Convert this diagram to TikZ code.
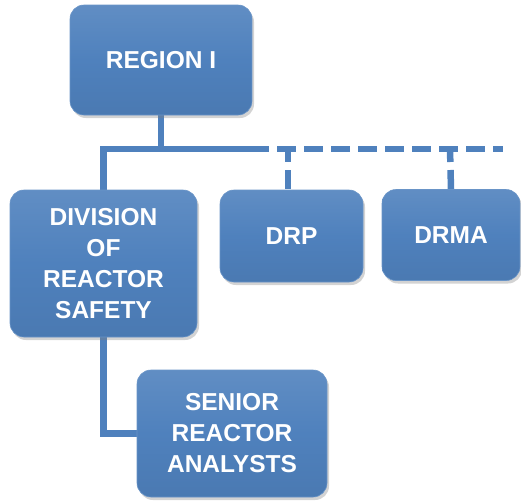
\documentclass[tikz,border=0pt]{standalone}
\usepackage{fontspec}
\setmainfont{Liberation Sans}
\usepackage{xcolor}
\usetikzlibrary{
    shadows,
    backgrounds,
    calc,
    positioning
}
\definecolor{orgblue}{RGB}{79,129,189}
\tikzset{
    orgbox/.style={rounded corners=14pt, top color=orgblue!90!white, bottom color=orgblue!94!black,
        middle color=orgblue, draw=orgblue!85!white, line width=0.6pt,
        drop shadow={shadow xshift=2pt, shadow yshift=-3pt, opacity=0.35},
        text=white, align=center, font=\bfseries\fontsize{24.5}{31}\selectfont, inner sep=2pt},
    orgline/.style={orgblue, line width=6.5pt},
    orgdash/.style={orgline, dash pattern=on 19pt off 8pt}
}

\begin{document}
\begin{tikzpicture}[x=1pt, y=-1pt]
                        \useasboundingbox (0, 0) rectangle (521, 501);
                        \node[orgbox, minimum width=182pt, minimum height=110pt] (region) at (161, 60) {REGION I};
                        \node[orgbox, minimum width=187pt, minimum height=147pt] (drs) at (103.5, 263.5) {DIVISION\\OF\\REACTOR\\SAFETY};
                        \node[orgbox, minimum width=143pt, minimum height=92pt] (drp) at (291.5, 236) {DRP};
                        \node[orgbox, minimum width=138pt, minimum height=91pt] (drma) at (451, 235) {DRMA};
                        \node[orgbox, minimum width=190pt, minimum height=127pt] (sra) at (232, 433.5) {SENIOR\\REACTOR\\ANALYSTS};

                        \coordinate (split) at (250, 149);
                        \coordinate (busend) at (503, 149);

                        \begin{scope}[on background layer]
                        \draw[orgline] (region.south) -- (region.south |- split);
                        \draw[orgline] (drs.north) |- (split);
                        \draw[orgdash] (split) -- (busend);
                        \draw[orgdash, dash phase=6pt] (288, 149) -- (288, 190.5);
                        \draw[orgdash, dash phase=6pt] (450, 149) -- (drma.north);
                        \draw[orgline] (drs.south) |- (sra.west);
                        \end{scope}
                    \end{tikzpicture}
\end{document}
